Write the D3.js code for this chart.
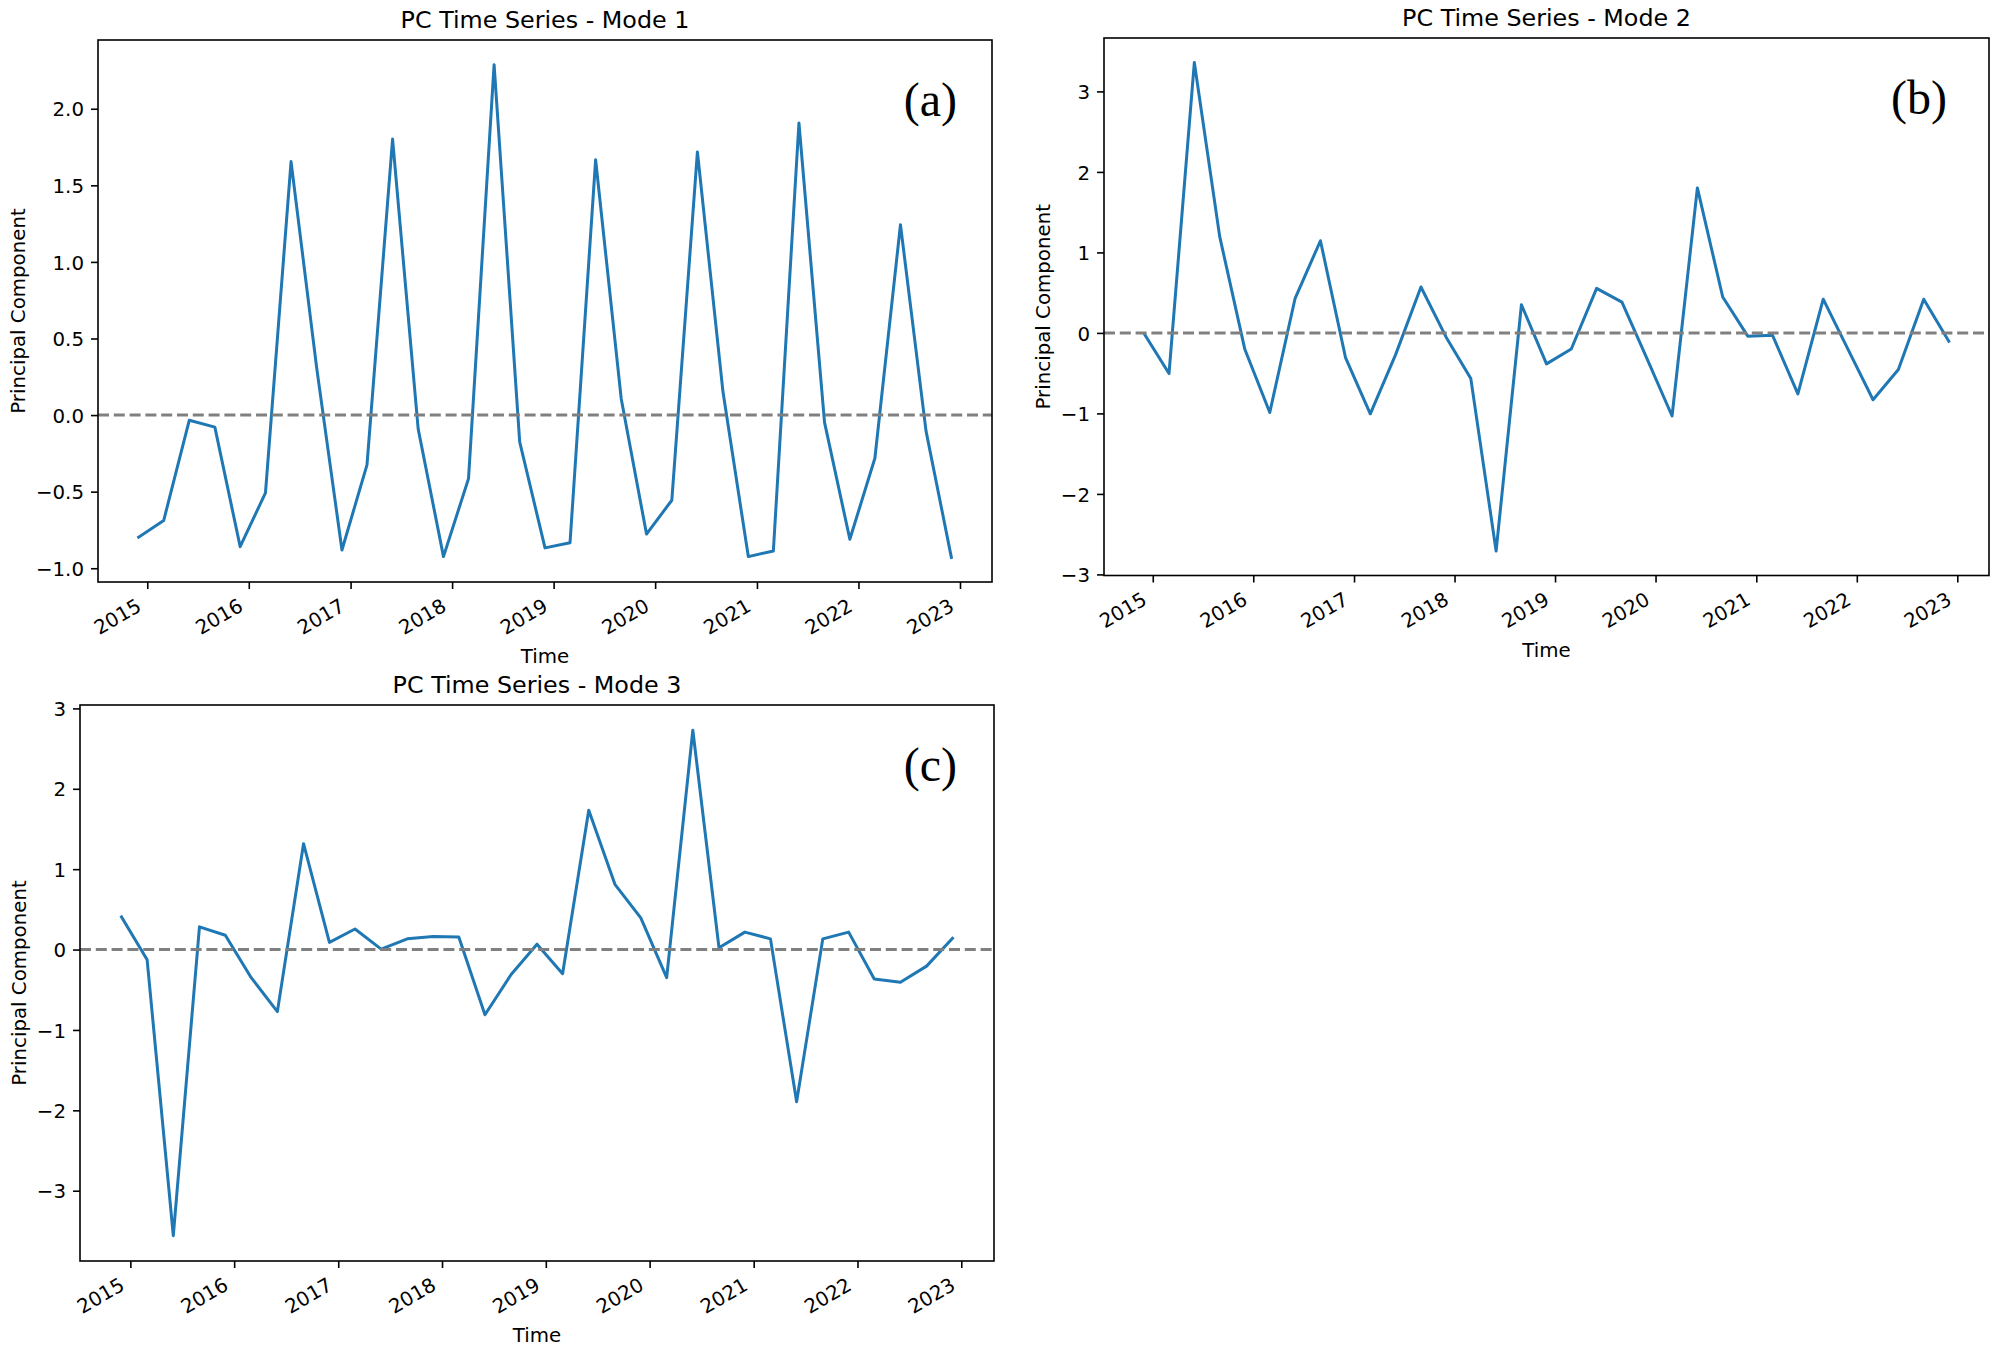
<!DOCTYPE html>
<html>
<head>
<meta charset="utf-8">
<style>
  body { margin: 0; background: #fff; }
  text { font-family: "DejaVu Sans", sans-serif; }
</style>
</head>
<body>
<svg width="2000" height="1362"></svg>
<script src="https://cdn.jsdelivr.net/npm/d3@7"></script>
<script>
    // quarterly samples, Dec 2014 .. Dec 2022
    const dates = [
        "2014-12-01", "2015-03-01", "2015-06-01", "2015-09-01",
        "2015-12-01", "2016-03-01", "2016-06-01", "2016-09-01",
        "2016-12-01", "2017-03-01", "2017-06-01", "2017-09-01",
        "2017-12-01", "2018-03-01", "2018-06-01", "2018-09-01",
        "2018-12-01", "2019-03-01", "2019-06-01", "2019-09-01",
        "2019-12-01", "2020-03-01", "2020-06-01", "2020-09-01",
        "2020-12-01", "2021-03-01", "2021-06-01", "2021-09-01",
        "2021-12-01", "2022-03-01", "2022-06-01", "2022-09-01",
        "2022-12-01"
    ];

    const mode1 = [-0.797, -0.689, -0.034, -0.079, -0.859, -0.508, 1.655, 0.31, -0.881, -0.325,
        1.802, -0.09, -0.924, -0.415, 2.288, -0.175, -0.867, -0.833, 1.667, 0.107,
        -0.777, -0.556, 1.718, 0.15, -0.924, -0.887, 1.907, -0.048, -0.811, -0.282,
        1.243, -0.105, -0.929];
    const mode2 = [-0.01, -0.505, 3.36, 1.199, -0.199, -0.989, 0.43, 1.145, -0.306, -1.005,
        -0.27, 0.57, -0.05, -0.565, -2.71, 0.35, -0.385, -0.2, 0.554, 0.382,
        -0.32, -1.032, 1.801, 0.446, -0.04, -0.03, -0.757, 0.419, -0.21, -0.83,
        -0.455, 0.419, -0.102];
    const mode3 = [0.406, -0.128, -3.56, 0.283, 0.178, -0.35, -0.772, 1.317, 0.089, 0.256,
        0.006, 0.133, 0.161, 0.156, -0.811, -0.31, 0.067, -0.3, 1.733, 0.811,
        0.394, -0.35, 2.728, 0.022, 0.217, 0.133, -1.894, 0.133, 0.217, -0.367,
        -0.406, -0.206, 0.139];

    const yearTicks = [2015, 2016, 2017, 2018, 2019, 2020, 2021, 2022, 2023];
    const yTicksMode1 = [-1.0, -0.5, 0.0, 0.5, 1.0, 1.5, 2.0];
    const yTicksMode23 = [-3, -2, -1, 0, 1, 2, 3];

    const panels = [
        { title: "PC Time Series - Mode 1", tag: "(a)", values: mode1, ticks: yTicksMode1, fmt: d3.format(".1f"),
          x0: 98, x1: 992, y0: 40, y1: 582, tagDx: 35, tagDy: 76 },
        { title: "PC Time Series - Mode 2", tag: "(b)", values: mode2, ticks: yTicksMode23, fmt: d3.format("d"),
          x0: 1104, x1: 1989, y0: 38, y1: 575.5, tagDx: 42, tagDy: 76 },
        { title: "PC Time Series - Mode 3", tag: "(c)", values: mode3, ticks: yTicksMode23, fmt: d3.format("d"),
          x0: 80, x1: 994, y0: 705, y1: 1261, tagDx: 37, tagDy: 76 }
    ];

    const fontSize = 19.8;
    const parse = d3.utcParse("%Y-%m-%d");
    const times = dates.map(parse);
    const svg = d3.select("svg");

    panels.forEach(p => {
        // matplotlib style 5% margins
        const [t0, t1] = d3.extent(times);
        const tp = (t1 - t0) * 0.05;
        const x = d3.scaleUtc()
            .domain([new Date(+t0 - tp), new Date(+t1 + tp)])
            .range([p.x0, p.x1]);
        const [v0, v1] = d3.extent(p.values);
        const vp = (v1 - v0) * 0.05;
        const y = d3.scaleLinear()
            .domain([v0 - vp, v1 + vp])
            .range([p.y1, p.y0]);

        const g = svg.append("g");

        g.append("path")
            .datum(p.values)
            .attr("d", d3.line().x((d, i) => x(times[i])).y(d => y(d)))
            .attr("fill", "none")
            .attr("stroke", "#1f77b4")
            .attr("stroke-width", 3)
            .attr("stroke-linejoin", "round")
            .attr("stroke-linecap", "square");

        g.append("line")
            .attr("x1", p.x0).attr("x2", p.x1)
            .attr("y1", y(0)).attr("y2", y(0))
            .attr("stroke", "#808080")
            .attr("stroke-width", 3)
            .attr("stroke-dasharray", "11,4.8");

        g.append("rect")
            .attr("x", p.x0).attr("y", p.y0)
            .attr("width", p.x1 - p.x0).attr("height", p.y1 - p.y0)
            .attr("fill", "none")
            .attr("stroke", "#000")
            .attr("stroke-width", 1.6);

        // x axis
        const xa = g.append("g")
            .attr("transform", `translate(0,${p.y1})`)
            .attr("color", "#000")
            .call(d3.axisBottom(x)
                .tickValues(yearTicks.map(yr => new Date(Date.UTC(yr, 0, 1))))
                .tickFormat(d3.utcFormat("%Y"))
                .tickSize(7)
                .tickSizeOuter(0));
        xa.select(".domain").remove();
        xa.selectAll(".tick line").attr("stroke-width", 1.6);
        xa.selectAll(".tick text")
            .attr("font-size", fontSize)
            .attr("font-family", "DejaVu Sans")
            .attr("text-anchor", "end")
            .attr("x", 0).attr("y", 0).attr("dy", null)
            .attr("transform", "translate(-5,28) rotate(-30)");

        // y axis
        const ya = g.append("g")
            .attr("transform", `translate(${p.x0},0)`)
            .attr("color", "#000")
            .call(d3.axisLeft(y)
                .tickValues(p.ticks)
                .tickFormat(p.fmt)
                .tickSize(7)
                .tickPadding(7)
                .tickSizeOuter(0));
        ya.select(".domain").remove();
        ya.selectAll(".tick line").attr("stroke-width", 1.6);
        ya.selectAll(".tick text")
            .attr("font-size", fontSize)
            .attr("font-family", "DejaVu Sans")
            .attr("dy", "0.36em");

        const left = p.x0 + ya.node().getBBox().x;
        const cy = (p.y0 + p.y1) / 2;
        g.append("text")
            .attr("transform", `translate(${left - 11},${cy}) rotate(-90)`)
            .attr("text-anchor", "middle")
            .attr("font-size", fontSize)
            .text("Principal Component");

        g.append("text")
            .attr("x", (p.x0 + p.x1) / 2)
            .attr("y", p.y1 + 81)
            .attr("text-anchor", "middle")
            .attr("font-size", fontSize)
            .text("Time");

        g.append("text")
            .attr("x", (p.x0 + p.x1) / 2)
            .attr("y", p.y0 - 12)
            .attr("text-anchor", "middle")
            .attr("font-size", 23.8)
            .text(p.title);

        g.append("text")
            .attr("x", p.x1 - p.tagDx)
            .attr("y", p.y0 + p.tagDy)
            .attr("text-anchor", "end")
            .style("font-family", "'Liberation Serif', 'Times New Roman', serif")
            .attr("font-size", 48)
            .text(p.tag);
    });
</script>
</body>
</html>
